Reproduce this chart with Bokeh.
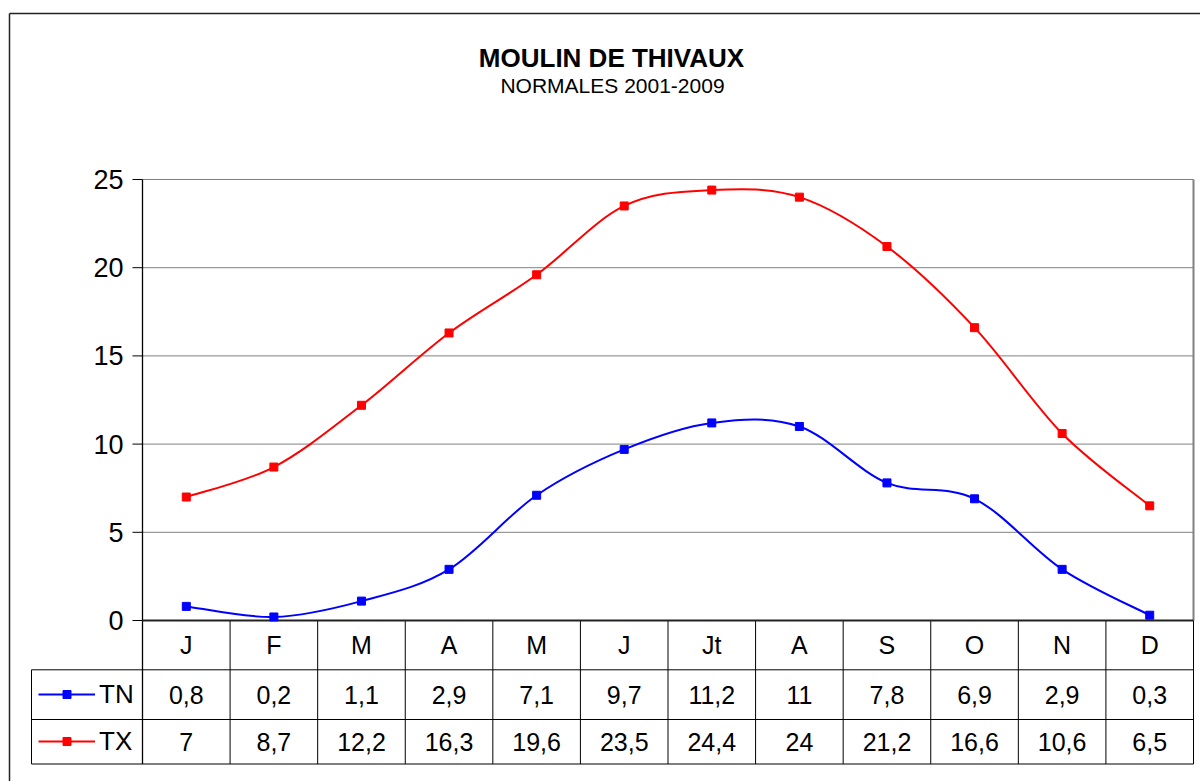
import numpy as np
from bokeh.plotting import figure
from bokeh.models import Range1d, Legend, LegendItem, Label
from bokeh.core.properties import value
from bokeh.embed import file_html
from bokeh.resources import INLINE

# ---------------- data ----------------
months = ["J", "F", "M", "A", "M", "J", "Jt", "A", "S", "O", "N", "D"]
tn = [0.8, 0.2, 1.1, 2.9, 7.1, 9.7, 11.2, 11, 7.8, 6.9, 2.9, 0.3]
tx = [7, 8.7, 12.2, 16.3, 19.6, 23.5, 24.4, 24, 21.2, 16.6, 10.6, 6.5]
y_ticks = [0, 5, 10, 15, 20, 25]
title_text = "MOULIN DE THIVAUX"
subtitle_text = "NORMALES 2001-2009"
series_names = ["TN", "TX"]

# ---------------- layout (pixels) ----------------
FONT = "Liberation Sans"
W, H = 1200, 781
PLOT_L, PLOT_R = 142.0, 1193.0      # plot area left / right
PLOT_T, PLOT_B = 179.0, 620.0       # pixel rows of top tick and of 0
n = len(months)
Y_MAX = y_ticks[-1]
px_x = (PLOT_R - PLOT_L) / n
px_y = (PLOT_B - PLOT_T) / Y_MAX

def dx(pixels):
    return pixels / px_x

def dy(pixels):
    return pixels / px_y

x_lo, x_hi = -dx(PLOT_L), dx(W - PLOT_L)
y_lo, y_hi = -dy(H - PLOT_B), Y_MAX + dy(PLOT_T)

r1 = -dy(49.3)    # bottom of month row
r2 = -dy(99.0)    # bottom of TN row
r3 = -dy(143.5)   # bottom of TX row
leg_l = -dx(111)  # left edge of legend column
month_c = r1 / 2
tn_c = (r1 + r2) / 2
tx_c = (r2 + r3) / 2
xc = np.arange(n) + 0.5

def fmt(v):
    return f"{v:g}".replace(".", ",")

def smooth(x, y):
    x = np.asarray(x, float)
    y = np.asarray(y, float)
    xp = np.concatenate([[x[0]], x, [x[-1]]])
    yp = np.concatenate([[y[0]], y, [y[-1]]])
    i = np.arange(len(x) - 1)
    return dict(
        x0=xp[i + 1], y0=yp[i + 1], x1=xp[i + 2], y1=yp[i + 2],
        cx0=xp[i + 1] + (xp[i + 2] - xp[i]) / 6, cy0=yp[i + 1] + (yp[i + 2] - yp[i]) / 6,
        cx1=xp[i + 2] - (xp[i + 3] - xp[i + 1]) / 6, cy1=yp[i + 2] - (yp[i + 3] - yp[i + 1]) / 6,
    )

p = figure(width=W, height=H, x_range=Range1d(x_lo, x_hi), y_range=Range1d(y_lo, y_hi),
           output_backend="svg", toolbar_location=None, x_axis_location=None,
           y_axis_location=None, title=None,
           min_border_left=0, min_border_right=0, min_border_top=0, min_border_bottom=0)
p.background_fill_color = "white"
p.border_fill_color = "white"
p.outline_line_color = None
p.grid.visible = False

# outer chart border (left and top edges visible)
bx = -dx(PLOT_L - 9)
by = Y_MAX + dy(PLOT_T - 13)
p.segment(x0=[bx, bx], y0=[by, by], x1=[bx, x_hi + 1], y1=[y_lo - 1, by],
          line_color="#222222", line_width=1.5)

# horizontal gridlines
gy = y_ticks[1:]
p.segment(x0=[0] * len(gy), y0=gy, x1=[n] * len(gy), y1=gy, line_color="#808080", line_width=1)
# plot-area right edge
p.segment(x0=[n], y0=[0], x1=[n], y1=[Y_MAX], line_color="#808080", line_width=2)

# y axis: line, ticks, labels
p.segment(x0=[0], y0=[r3], x1=[0], y1=[Y_MAX], line_color="black", line_width=1.3)
p.segment(x0=[-dx(10)] * len(y_ticks), y0=y_ticks, x1=[0] * len(y_ticks), y1=y_ticks,
          line_color="black", line_width=1)
p.text(x=[-dx(19)] * len(y_ticks), y=y_ticks, text=[str(t) for t in y_ticks],
       text_align="right", text_baseline="middle", text_font=value(FONT),
       text_font_size="27px", text_color="black")

# data table lines
p.segment(x0=[leg_l] * 3, y0=[r1, r2, r3], x1=[n] * 3, y1=[r1, r2, r3],
          line_color="black", line_width=1)
p.segment(x0=[leg_l], y0=[r1], x1=[leg_l], y1=[r3], line_color="black", line_width=1)
vx = list(range(1, n + 1))
p.segment(x0=vx, y0=[0] * n, x1=vx, y1=[r3] * n, line_color="black", line_width=1)
p.segment(x0=[0], y0=[0], x1=[n], y1=[0], line_color="#222222", line_width=2)

# table texts
tstyle = dict(text_align="center", text_baseline="middle", text_font=value(FONT),
              text_font_size="25px", text_color="black")
p.text(x=xc, y=[month_c] * n, text=months, **tstyle)
p.text(x=xc, y=[tn_c] * n, text=[fmt(v) for v in tn], **tstyle)
p.text(x=xc, y=[tx_c] * n, text=[fmt(v) for v in tx], **tstyle)

# series
colors = ["#0000FF", "#FF0000"]
items = []
for name, vals, col in zip(series_names, [tn, tx], colors):
    curve = p.bezier(line_color=col, line_width=2, **smooth(xc, vals))
    pts = p.scatter(x=xc, y=vals, marker="square", size=8, fill_color=col, line_color=col)
    items.append(LegendItem(label=name, renderers=[curve, pts]))

leg = Legend(items=items, location=(38, 20), margin=0, padding=0, spacing=7,
             glyph_width=57, glyph_height=20, label_standoff=4,
             label_width=36, label_height=40,
             label_text_font=FONT, label_text_font_size="26px", label_text_color="black",
             border_line_color=None, background_fill_alpha=0)
p.add_layout(leg)

# titles
p.add_layout(Label(x=dx(611 - PLOT_L), y=Y_MAX + dy(PLOT_T - 57.5), text=title_text,
                   text_align="center", text_baseline="alphabetic", text_font=FONT,
                   text_font_size="26px", text_font_style="bold", text_color="black"))
p.add_layout(Label(x=dx(612 - PLOT_L), y=Y_MAX + dy(PLOT_T - 84.5), text=subtitle_text,
                   text_align="center", text_baseline="alphabetic", text_font=FONT,
                   text_font_size="21px", text_color="black"))

open("out.html", "w").write(file_html(p, INLINE))
